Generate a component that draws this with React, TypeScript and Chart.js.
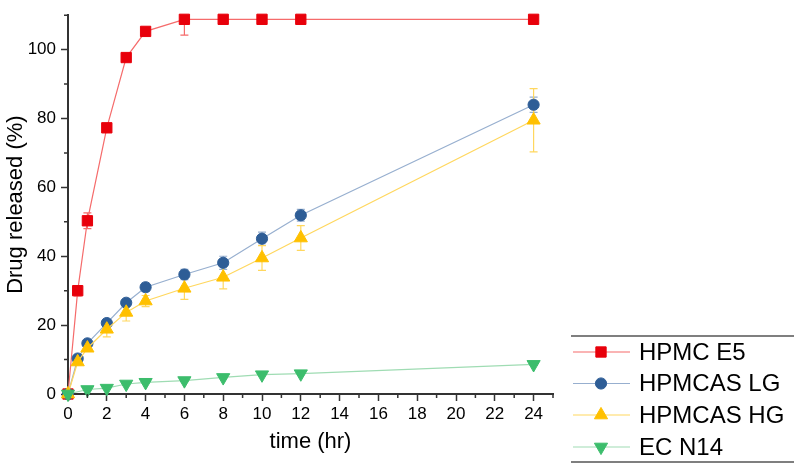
import React, { useEffect, useRef } from 'react';
import { Chart, registerables } from 'chart.js';
Chart.register(...registerables);

const timePoints = [0, 0.5, 1, 2, 3, 4, 6, 8, 10, 12, 24];
const seriesNames = ['HPMC E5', 'HPMCAS LG', 'HPMCAS HG', 'EC N14'];
const hpmcE5 = [0, 30, 50.3, 77.3, 97.7, 105.3, 108.8, 108.8, 108.8, 108.8, 108.8];
const hpmcE5Err = [0, 1.5, 2.3, 0, 0, 0, 4.6, 0, 0, 0, 0];
const hpmcasLG = [0, 10.3, 14.7, 20.6, 26.5, 31, 34.7, 38.1, 45.1, 51.9, 84];
const hpmcasLGErr = [0, 0.8, 0.9, 1, 1, 1.2, 1.5, 1.9, 1.9, 1.7, 2.2];
const hpmcasHG = [0, 9.3, 13.3, 18.8, 23.7, 27, 30.7, 33.9, 39.5, 45.3, 79.5];
const hpmcasHGErr = [0, 0.8, 0.9, 2.2, 2.5, 1.6, 3.2, 3.4, 3.6, 3.6, 9.2];
const ecN14: (number | null)[] = [0, null, 1.3, 1.7, 2.9, 3.4, 3.9, 4.8, 5.6, 5.9, 8.6];
const ecN14Err = [0, 0, 0.3, 0.3, 0.3, 0.3, 0.3, 0.3, 0.3, 0.3, 0.3];
const xTicks = [0, 2, 4, 6, 8, 10, 12, 14, 16, 18, 20, 22, 24];
const xMinorTicks = [1, 3, 5, 7, 9, 11, 13, 15, 17, 19, 21, 23, 25];
const yTicks = [0, 20, 40, 60, 80, 100];
const yMinorTicks = [10, 30, 50, 70, 90, 110];

const markerColors = ['#e8000b', '#2e5d96', '#ffc000', '#3cbd6c'];
const lineColors = ['#f56b6b', '#97afcf', '#ffd75e', '#9fdcb3'];
const pointStyles = ['rect', 'circle', 'triangle', 'triangle'];
const pointRotations = [0, 0, 0, 180];
const pointRadii = [7.3, 5.6, 7.6, 7.6];
const values = [hpmcE5, hpmcasLG, hpmcasHG, ecN14];
const errors = [hpmcE5Err, hpmcasLGErr, hpmcasHGErr, ecN14Err];

const FONT = 'Arial, "Liberation Sans", sans-serif';
const AXIS_COLOR = '#333333';

function drawMarker(ctx: CanvasRenderingContext2D, style: string, rot: number, r: number, x: number, y: number) {
  ctx.beginPath();
  if (style === 'rect') {
    const s = Math.SQRT1_2 * r;
    ctx.rect(x - s, y - s, 2 * s, 2 * s);
  } else if (style === 'circle') {
    ctx.arc(x, y, r, 0, Math.PI * 2);
  } else {
    let a = (rot * Math.PI) / 180;
    ctx.moveTo(x + Math.sin(a) * r, y - Math.cos(a) * r);
    a += (2 * Math.PI) / 3;
    ctx.lineTo(x + Math.sin(a) * r, y - Math.cos(a) * r);
    a += (2 * Math.PI) / 3;
    ctx.lineTo(x + Math.sin(a) * r, y - Math.cos(a) * r);
    ctx.closePath();
  }
  ctx.fill();
  ctx.stroke();
}

const errorBarPlugin = {
  id: 'errorBars',
  beforeDatasetsDraw(chart: any) {
    const { ctx, chartArea, scales } = chart;
    const xs = scales.x;
    const ys = scales.y;
    ctx.save();
    ctx.beginPath();
    ctx.rect(chartArea.left, chartArea.top, chartArea.right - chartArea.left, chartArea.bottom - chartArea.top);
    ctx.clip();
    values.forEach((vals, si) => {
      ctx.strokeStyle = lineColors[si];
      ctx.lineWidth = 1.2;
      vals.forEach((v, i) => {
        const e = errors[si][i];
        if (v == null || !e) return;
        const px = xs.getPixelForValue(timePoints[i]);
        const top = ys.getPixelForValue(v + e);
        const bot = ys.getPixelForValue(v - e);
        ctx.beginPath();
        ctx.moveTo(px, top);
        ctx.lineTo(px, bot);
        ctx.moveTo(px - 4, top);
        ctx.lineTo(px + 4, top);
        ctx.moveTo(px - 4, bot);
        ctx.lineTo(px + 4, bot);
        ctx.stroke();
      });
    });
    ctx.restore();
  },
};

const minorTickPlugin = {
  id: 'minorTicks',
  afterDraw(chart: any) {
    const { ctx, chartArea, scales } = chart;
    ctx.save();
    ctx.strokeStyle = AXIS_COLOR;
    ctx.lineWidth = 1.5;
    ctx.beginPath();
    xMinorTicks.forEach((t) => {
      const px = scales.x.getPixelForValue(t);
      ctx.moveTo(px, chartArea.bottom);
      ctx.lineTo(px, chartArea.bottom + 4);
    });
    yMinorTicks.forEach((t) => {
      const py = scales.y.getPixelForValue(t);
      ctx.moveTo(chartArea.left, py);
      ctx.lineTo(chartArea.left - 4, py);
    });
    ctx.stroke();
    ctx.restore();
  },
};

const legendPlugin = {
  id: 'customLegend',
  afterDraw(chart: any) {
    const { ctx } = chart;
    const left = 571;
    const right = 794;
    const topY = 336;
    const bottomY = 462;
    const rowY = [352, 383.5, 415, 447];
    ctx.save();
    ctx.strokeStyle = '#555555';
    ctx.lineWidth = 1.5;
    ctx.beginPath();
    ctx.moveTo(left, topY);
    ctx.lineTo(right, topY);
    ctx.moveTo(left, bottomY);
    ctx.lineTo(right, bottomY);
    ctx.stroke();
    seriesNames.forEach((name, i) => {
      const y = rowY[i];
      ctx.strokeStyle = lineColors[i];
      ctx.lineWidth = 1.2;
      ctx.beginPath();
      ctx.moveTo(573, y);
      ctx.lineTo(630, y);
      ctx.stroke();
      ctx.fillStyle = markerColors[i];
      ctx.strokeStyle = markerColors[i];
      ctx.lineWidth = 1;
      drawMarker(ctx, pointStyles[i], pointRotations[i], pointRadii[i], 601, y);
      ctx.fillStyle = '#000000';
      ctx.font = `24px ${FONT}`;
      ctx.textBaseline = 'middle';
      ctx.textAlign = 'left';
      ctx.fillText(name, 639, y + 1);
    });
    ctx.restore();
  },
};

export default function App() {
  const canvasRef = useRef<HTMLCanvasElement | null>(null);

  useEffect(() => {
    if (!canvasRef.current) return;
    const datasets = values.map((vals, si) => ({
      label: seriesNames[si],
      data: vals.map((v, i) => ({ x: timePoints[i], y: v })),
      borderColor: lineColors[si],
      backgroundColor: markerColors[si],
      pointBackgroundColor: markerColors[si],
      pointBorderColor: markerColors[si],
      pointStyle: pointStyles[si],
      pointRotation: pointRotations[si],
      pointRadius: pointRadii[si],
      pointBorderWidth: 1,
      borderWidth: 1.2,
      spanGaps: true,
      tension: 0,
      order: 4 - si,
      clip: false as any,
    }));
    const chart = new Chart(canvasRef.current, {
      type: 'line',
      data: { datasets },
      options: {
        animation: false,
        responsive: true,
        maintainAspectRatio: false,
        devicePixelRatio: 1,
        layout: { padding: { top: 4, right: 247, left: 0, bottom: 0 } },
        plugins: {
          legend: { display: false },
          tooltip: { enabled: false },
        },
        scales: {
          x: {
            type: 'linear',
            min: 0,
            max: 25,
            afterFit(scale: any) {
              scale.height = 71;
            },
            afterBuildTicks(scale: any) {
              scale.ticks = xTicks.map((v) => ({ value: v }));
            },
            grid: {
              display: true,
              drawOnChartArea: false,
              drawTicks: true,
              tickLength: 7,
              tickWidth: 1.5,
              tickColor: AXIS_COLOR,
            },
            border: { display: true, color: AXIS_COLOR, width: 2 },
            ticks: {
              color: '#000000',
              font: { family: FONT, size: 17 },
              padding: 3,
              maxRotation: 0,
              autoSkip: false,
            },
            title: {
              display: true,
              text: 'time (hr)',
              color: '#000000',
              font: { family: FONT, size: 22 },
              padding: { top: 0, bottom: 10 },
            },
          },
          y: {
            type: 'linear',
            min: 0,
            max: 110,
            afterFit(scale: any) {
              scale.width = 68;
            },
            afterBuildTicks(scale: any) {
              scale.ticks = yTicks.map((v) => ({ value: v }));
            },
            grid: {
              display: true,
              drawOnChartArea: false,
              drawTicks: true,
              tickLength: 7,
              tickWidth: 1.5,
              tickColor: AXIS_COLOR,
            },
            border: { display: true, color: AXIS_COLOR, width: 2 },
            ticks: {
              color: '#000000',
              font: { family: FONT, size: 17 },
              padding: 5,
              autoSkip: false,
            },
            title: {
              display: true,
              text: 'Drug released (%)',
              color: '#000000',
              font: { family: FONT, size: 22 },
              padding: { top: 3, bottom: 0 },
            },
          },
        },
      },
      plugins: [errorBarPlugin, minorTickPlugin, legendPlugin],
    });
    return () => chart.destroy();
  }, []);

  return (
    <div style={{ position: 'absolute', left: 0, top: 0, width: 800, height: 465 }}>
      <canvas ref={canvasRef} />
    </div>
  );
}
